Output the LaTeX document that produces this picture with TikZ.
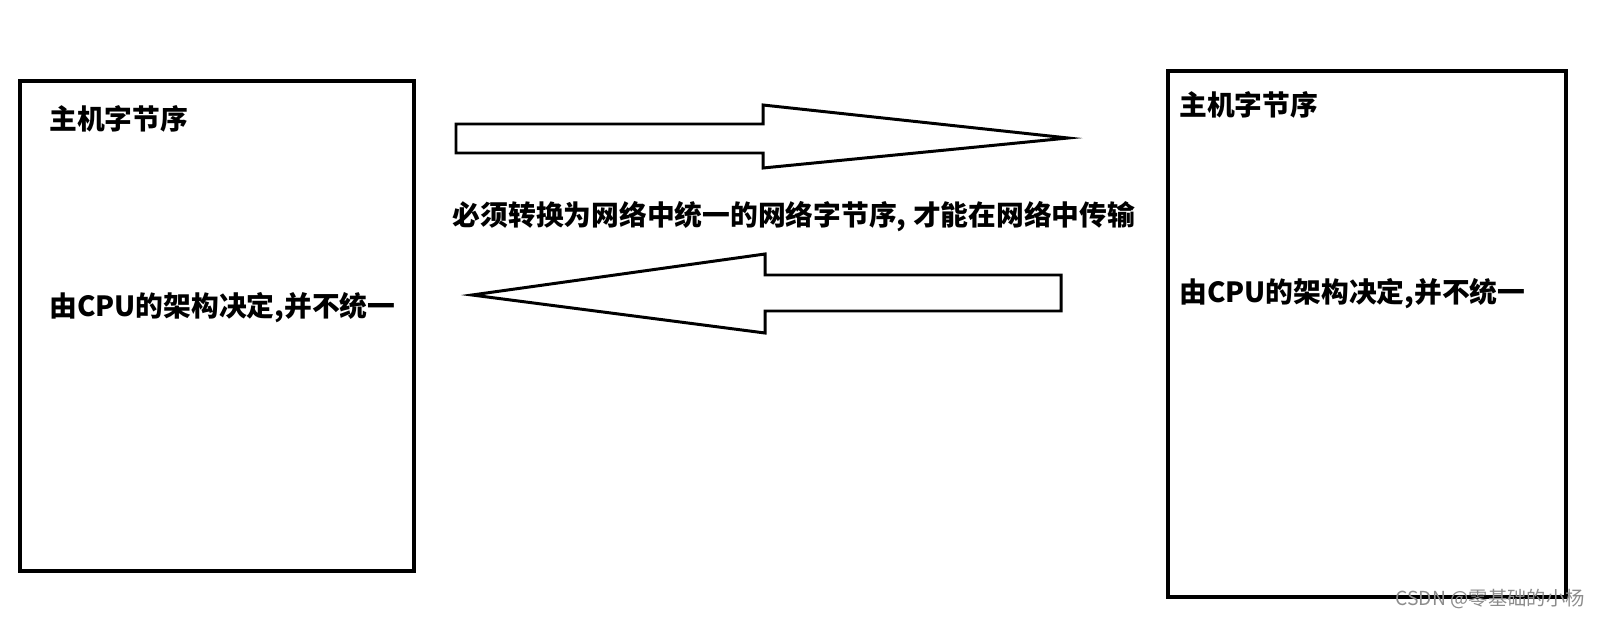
\documentclass[tikz,border=0pt]{standalone}
\usepackage{fontspec}
\newfontfamily\cjk{Noto Sans CJK SC}
\usetikzlibrary{calc}

\begin{document}
\begin{tikzpicture}[
     x=0.02cm, y=-0.02cm,
     host/.style={draw, line width=2.3pt, inner sep=0pt},
     lbl/.style={anchor=west, inner sep=0pt, font=\cjk\bfseries\fontsize{15.8}{18}\selectfont},
     blk/.style={draw, line width=1.7pt, line join=miter}
   ]
   \path[use as bounding box] (0,0) rectangle (1600,619);
   % Host boxes.
   \node[host, minimum width=394*0.02cm, minimum height=490*0.02cm, anchor=north west] (hostA) at (18,79) {};
   \node[host, minimum width=398*0.02cm, minimum height=526*0.02cm, anchor=north west] (hostB) at (1166,69) {};
   \node[lbl] (orderA) at (49,119) {主机字节序};
   \node[lbl] (cpuA) at (49,308) {由CPU的架构决定,并不统一};
   \node[lbl] (orderB) at (1179,105) {主机字节序};
   \node[lbl] (cpuB) at (1179,294) {由CPU的架构决定,并不统一};
   % Block arrows.
   \draw[blk] (456,124) -- (763,124) -- (763,105) -- (1068,138) -- (763,168) -- (763,153) -- (456,153) -- cycle;
   \draw[blk] (1061,275) -- (765,275) -- (765,254) -- (472,295) -- (765,333) -- (765,311) -- (1061,311) -- cycle;
   \node[lbl, anchor=center] (net) at (794,217) {必须转换为网络中统一的网络字节序, 才能在网络中传输};
   % Watermark.
   \node[anchor=east, inner sep=0pt, text=black!45, font=\cjk\fontsize{11}{13}\selectfont] (mark) at (1585,599) {CSDN @零基础的小杨};
 \end{tikzpicture}
\end{document}
